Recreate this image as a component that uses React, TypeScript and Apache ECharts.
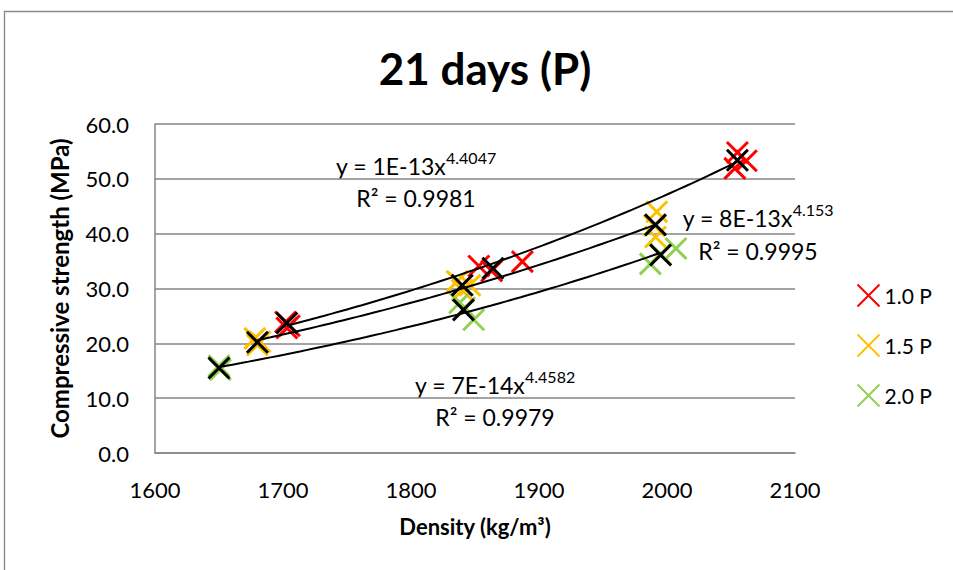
import React, { useEffect, useRef } from "react";
import * as echarts from "echarts";

const seriesNames = ["1.0 P", "1.5 P", "2.0 P"];
const seriesColors = ["#FF0000", "#FFC000", "#92D050"];

const points10: number[][] = [
  [1702, 23.9], [1705, 23.2], [1703, 22.8],
  [1853, 34.1], [1863, 33.2], [1887, 34.9],
  [2055, 54.8], [2062, 53.3], [2053, 51.9],
];
const points15: number[][] = [
  [1678, 20.9], [1682, 20.3], [1680, 19.7],
  [1836, 31.3], [1846, 30.6], [1840, 29.7],
  [1992, 44.0], [1990, 41.5], [1991, 39.4],
];
const points20: number[][] = [
  [1650, 15.9], [1651, 15.2],
  [1838, 27.4], [1842, 26.5], [1849, 24.3],
  [1987, 34.5], [2007, 37.3], [1995, 36.3],
];

const mean10: number[][] = [[1703, 23.7], [1864, 33.7], [2055, 53.4]];
const mean15: number[][] = [[1680, 20.2], [1840, 30.6], [1991, 41.6]];
const mean20: number[][] = [[1650, 15.5], [1841, 26.1], [1995, 36.1]];

const trendExponents = [4.4047, 4.153, 4.4582];
const trendEquations = ["1E-13", "8E-13", "7E-14"];
const trendR2 = ["0.9981", "0.9995", "0.9979"];

const xTicks = { min: 1600, max: 2100, interval: 100 };
const yTicks = { min: 0, max: 60, interval: 10 };

const FONT = "Lato, 'Open Sans', sans-serif";
const CROSS = "path://M0,0L10,10M10,0L0,10";

function trendCurve(means: number[][], b: number): number[][] {
  // power trend y = a*x^b, a fitted in log space with the displayed exponent
  let s = 0;
  means.forEach(([x, y]) => (s += Math.log(y) - b * Math.log(x)));
  const lnA = s / means.length;
  const x0 = Math.min(...means.map((m) => m[0]));
  const x1 = Math.max(...means.map((m) => m[0]));
  const out: number[][] = [];
  const n = 60;
  for (let i = 0; i <= n; i++) {
    const x = x0 + ((x1 - x0) * i) / n;
    out.push([x, Math.exp(lnA + b * Math.log(x))]);
  }
  return out;
}

export default function App() {
  const ref = useRef<HTMLDivElement>(null);
  useEffect(() => {
    document.body.style.margin = "0";
    const chart = echarts.init(ref.current!, null, { renderer: "svg" });
    const pts = [points10, points15, points20];
    const means = [mean10, mean15, mean20];
    const scatter = pts.map((d, i) => ({
      name: seriesNames[i],
      type: "scatter",
      data: d,
      symbol: CROSS,
      symbolSize: 21,
      itemStyle: { color: "none", borderColor: seriesColors[i], borderWidth: 3, opacity: 1 },
      z: 2,
    }));
    const meanSeries = means.map((d, i) => ({
      name: "mean" + i,
      type: "scatter",
      data: d,
      symbol: CROSS,
      symbolSize: 21,
      itemStyle: { color: "none", borderColor: "#000000", borderWidth: 3, opacity: 1 },
      z: 4,
    }));
    const trends = means.map((d, i) => ({
      name: "trend" + i,
      type: "line",
      data: trendCurve(d, trendExponents[i]),
      showSymbol: false,
      symbol: "none",
      lineStyle: { color: "#000000", width: 2 },
      z: 3,
      silent: true,
    }));
    const eqStyle = (txt: string, x: number, y: number) => ({
      type: "text",
      x,
      y,
      style: {
        text: txt,
        fill: "#000",
        font: `23px ${FONT}`,
        align: "center",
        verticalAlign: "middle",
        rich: {
          b: { fontSize: 23, fontFamily: FONT, lineHeight: 28, verticalAlign: "bottom" },
          s: { fontSize: 16, fontFamily: FONT, lineHeight: 28, verticalAlign: "top", padding: [0, 0, 12, 0] },
        },
      },
    });
    const eqPos = [
      [416, 163, 416, 195],
      [758, 215, 758, 248],
      [495, 382, 495, 414],
    ];
    const graphics: any[] = [
      {
        type: "rect",
        shape: { x: 4.5, y: 11.5, width: 1000, height: 600 },
        style: { fill: "none", stroke: "#868686", lineWidth: 1.3 },
        silent: true,
      },
      {
        type: "text",
        x: 485,
        y: 68,
        style: {
          text: "21 days (P)",
          font: `bold 44px ${FONT}`,
          fill: "#000",
          align: "center",
          verticalAlign: "middle",
        },
      },
    ];
    eqPos.forEach((p, i) => {
      graphics.push(
        eqStyle(`{b|y = ${trendEquations[i]}x}{s|${trendExponents[i]}}`, p[0], p[1])
      );
      graphics.push(eqStyle(`{b|R² = ${trendR2[i]}}`, p[2], p[3]));
    });

    chart.setOption({
      animation: false,
      textStyle: { fontFamily: FONT },
      grid: { left: 155, right: 158, top: 124, bottom: 117, containLabel: false },
      legend: {
        data: seriesNames,
        orient: "vertical",
        left: 850,
        top: 277,
        itemGap: 23,
        itemWidth: 22,
        itemHeight: 22,
        textStyle: { fontSize: 21, color: "#000", fontFamily: FONT },
      },
      xAxis: {
        type: "value",
        min: xTicks.min,
        max: xTicks.max,
        interval: xTicks.interval,
        name: "Density (kg/m³)",
        nameLocation: "middle",
        nameGap: 62,
        nameTextStyle: { fontSize: 22, fontWeight: "bold", color: "#000", fontFamily: FONT },
        axisLine: { show: true, lineStyle: { color: "#868686", width: 1.5 } },
        axisTick: { show: false },
        splitLine: { show: false },
        axisLabel: {
          fontSize: 22,
          color: "#000",
          margin: 25,
          fontFamily: FONT,
          formatter: (v: number) => String(v),
        },
      },
      yAxis: {
        type: "value",
        min: yTicks.min,
        max: yTicks.max,
        interval: yTicks.interval,
        name: "Compressive strength (MPa)",
        nameLocation: "middle",
        nameGap: 84,
        nameTextStyle: { fontSize: 24, fontWeight: "bold", color: "#000", fontFamily: FONT },
        axisLine: { show: true, lineStyle: { color: "#868686", width: 1.5 } },
        axisTick: { show: false },
        splitLine: { show: true, lineStyle: { color: "#868686", width: 1.5 } },
        axisLabel: {
          fontSize: 22,
          color: "#000",
          margin: 26,
          fontFamily: FONT,
          formatter: (v: number) => v.toFixed(1),
        },
      },
      graphic: graphics,
      series: [...scatter, ...trends, ...meanSeries],
    });
    return () => chart.dispose();
  }, []);
  return (
    <div
      ref={ref}
      style={{ position: "absolute", left: 0, top: 0, width: 953, height: 570, background: "#fff" }}
    />
  );
}
